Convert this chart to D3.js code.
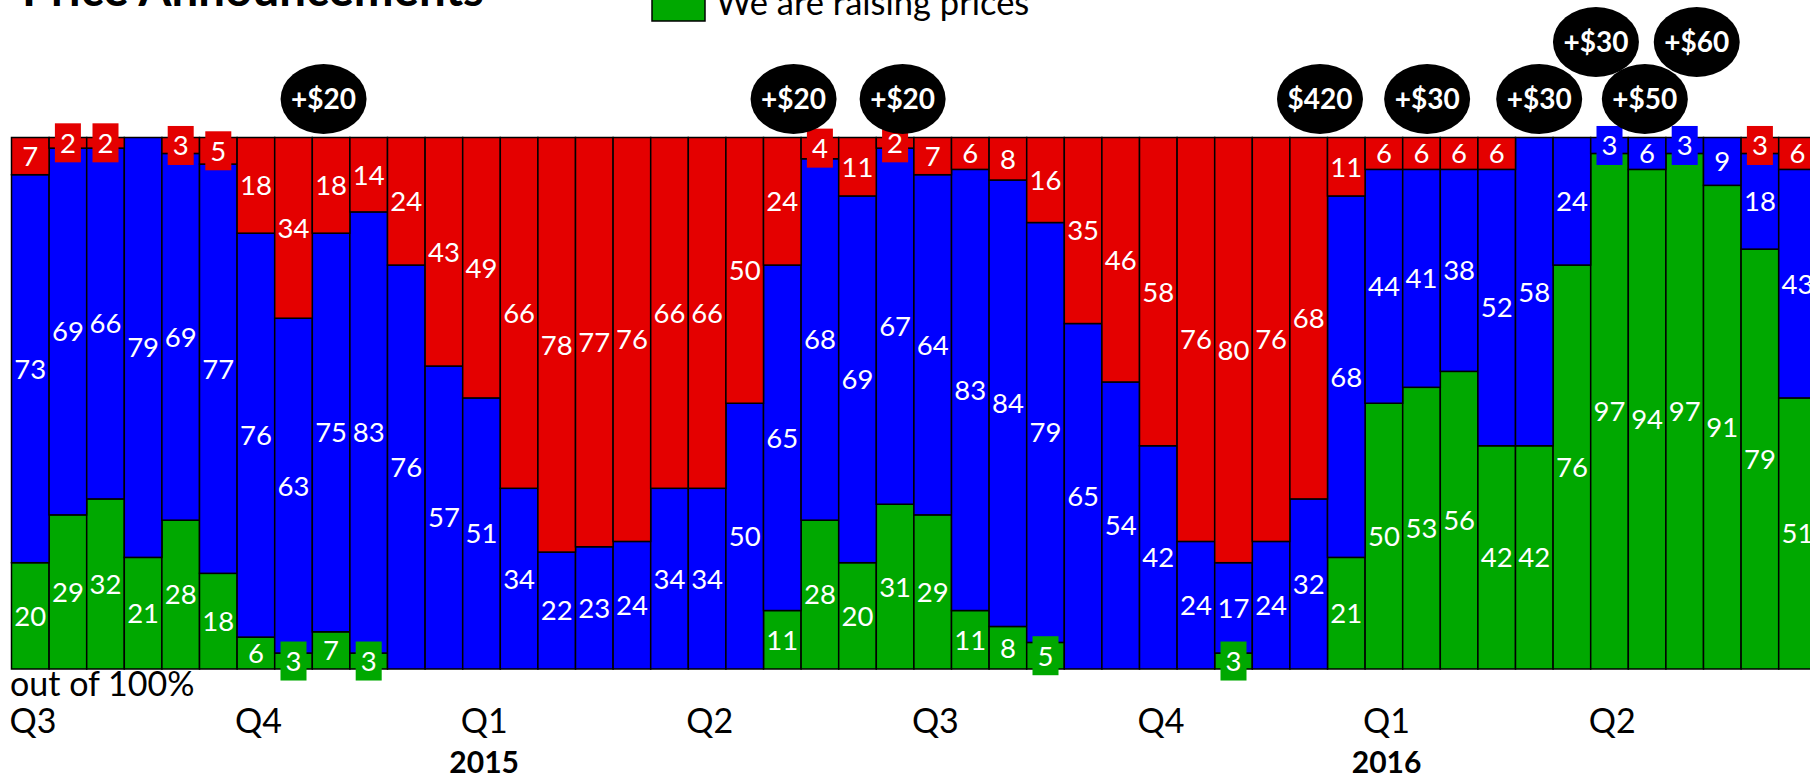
<!DOCTYPE html>
<html>
<head>
<meta charset="utf-8">
<script src="https://cdn.jsdelivr.net/npm/d3@7"></script>
<style>
  html, body { margin: 0; padding: 0; background: #fff; overflow: hidden; }
  svg { display: block; }
  text { font-family: Lato, "Open Sans", sans-serif; }
</style>
</head>
<body>
<svg id="chart" width="1810" height="777"></svg>
<script>
// share of answers per survey wave, out of 100
const raising = [20, 29, 32, 21, 28, 18, 6, 3, 7, 3, 0, 0, 0, 0, 0, 0, 0, 0, 0, 0,
  11, 28, 20, 31, 29, 11, 8, 5, 0, 0, 0, 0, 3, 0, 0, 21, 50, 53, 56, 42, 42, 76, 97, 94, 97, 91, 79, 51];
const holding = [73, 69, 66, 79, 69, 77, 76, 63, 75, 83, 76, 57, 51, 34, 22, 23, 24, 34, 34, 50,
  65, 68, 69, 67, 64, 83, 84, 79, 65, 54, 42, 24, 17, 24, 32, 68, 44, 41, 38, 52, 58, 24, 3, 6, 3, 9, 18, 43];
const cutting = [7, 2, 2, 0, 3, 5, 18, 34, 18, 14, 24, 43, 49, 66, 78, 77, 76, 66, 66, 50,
  24, 4, 11, 2, 7, 6, 8, 16, 35, 46, 58, 76, 80, 76, 68, 11, 6, 6, 6, 6, 0, 0, 0, 0, 0, 0, 3, 6];

const quarterLabels = ['Q3', 'Q4', 'Q1', 'Q2', 'Q3', 'Q4', 'Q1', 'Q2'];
const quarterStarts = [0, 6, 12, 18, 24, 30, 36, 42];
const yearLabels = ['2015', '2016'];
const yearQuarter = [2, 6];

// price announcements, placed in bar units
const bubbleText = ['+$20', '+$20', '+$20', '$420', '+$30', '+$30', '+$30', '+$50', '+$60'];
const bubbleAt = [7.8, 20.3, 23.2, 34.3, 37.15, 40.13, 41.64, 42.94, 44.32];
const bubbleRow = [0, 0, 0, 0, 0, 0, 1, 0, 1];

const colors = { raising: '#00A800', holding: '#0000FF', cutting: '#E40000' };

const svg = d3.select('#chart');
const n = raising.length;
const data = d3.range(n).map(i => ({ i, raising: raising[i], holding: holding[i], cutting: cutting[i] }));
const keys = ['raising', 'holding', 'cutting'];

const x = d3.scaleBand().domain(d3.range(n)).range([11.5, 11.5 + n * 37.6]);
const y = d3.scaleLinear().domain([0, 100]).range([669, 137.5]);
const xPos = d3.scaleLinear().domain([0, n]).range(x.range());

const stacked = d3.stack().keys(keys)(data);

// title and legend, cut by the top edge
svg.append('text')
  .attr('x', 22).attr('y', 6)
  .attr('font-size', 47.5).attr('font-weight', 700)
  .text('Price Announcements');

svg.append('rect')
  .attr('x', 652).attr('y', -32).attr('width', 53).attr('height', 53)
  .attr('fill', colors.raising).attr('stroke', '#000').attr('stroke-width', 1.5);
svg.append('text')
  .attr('x', 716).attr('y', 15)
  .attr('font-size', 34.5)
  .text('We are raising prices');

// bars
const layer = svg.append('g').selectAll('g')
  .data(stacked)
  .join('g')
  .attr('fill', d => colors[d.key]);

layer.selectAll('rect')
  .data(d => d.filter(s => s[1] > s[0]))
  .join('rect')
  .attr('x', s => x(s.data.i))
  .attr('y', s => y(s[1]))
  .attr('width', x.bandwidth())
  .attr('height', s => y(s[0]) - y(s[1]))
  .attr('stroke', '#000')
  .attr('stroke-width', 1.5);

// value labels; small slices get a box of their own colour
const labels = [];
stacked.forEach(layerData => {
  layerData.forEach(s => {
    const v = s[1] - s[0];
    if (v <= 0) return;
    labels.push({ key: layerData.key, v, cx: x(s.data.i) + x.bandwidth() / 2, cy: (y(s[0]) + y(s[1])) / 2 });
  });
});

svg.append('g').selectAll('rect')
  .data(labels.filter(d => d.v <= 5))
  .join('rect')
  .attr('x', d => d.cx - 13)
  .attr('y', d => d.cy - 19.5)
  .attr('width', 26)
  .attr('height', 39)
  .attr('fill', d => colors[d.key]);

svg.append('g').selectAll('text')
  .data(labels)
  .join('text')
  .attr('x', d => d.cx)
  .attr('y', d => d.cy)
  .attr('dy', '0.36em')
  .attr('text-anchor', 'middle')
  .attr('fill', '#fff')
  .attr('font-size', 27.5)
  .text(d => d.v);

// announcement bubbles
const rowY = [99, 42];
const bubbles = svg.append('g').selectAll('g')
  .data(bubbleText.map((t, k) => ({ t, at: bubbleAt[k], row: bubbleRow[k] })))
  .join('g')
  .attr('transform', d => `translate(${xPos(d.at + 0.5)},${rowY[d.row]})`);
bubbles.append('ellipse').attr('rx', 43).attr('ry', 35).attr('fill', '#000');
bubbles.append('text')
  .attr('dy', '0.36em')
  .attr('text-anchor', 'middle')
  .attr('fill', '#fff')
  .attr('font-size', 28)
  .attr('font-weight', 700)
  .text(d => d.t);

// axis texts
svg.append('text')
  .attr('x', 10).attr('y', 696)
  .attr('font-size', 34)
  .text('out of 100%');

const qText = svg.append('g').selectAll('text')
  .data(quarterLabels)
  .join('text')
  .attr('x', (d, k) => x(quarterStarts[k]) - 2)
  .attr('y', 733)
  .attr('font-size', 34)
  .text(d => d);

const qNodes = qText.nodes();
svg.append('g').selectAll('text')
  .data(yearLabels)
  .join('text')
  .attr('x', (d, k) => {
    const b = qNodes[yearQuarter[k]].getBBox();
    return b.x + b.width / 2;
  })
  .attr('y', 773)
  .attr('text-anchor', 'middle')
  .attr('font-size', 30)
  .attr('font-weight', 700)
  .text(d => d);
</script>
</body>
</html>
